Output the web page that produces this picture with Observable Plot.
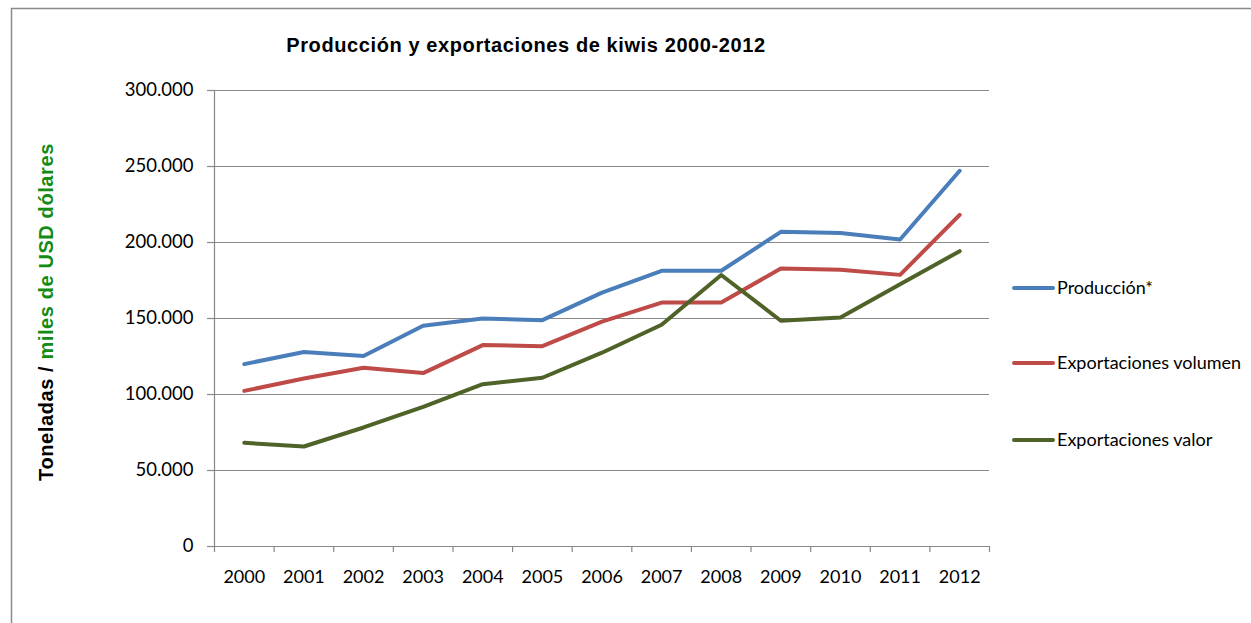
<!DOCTYPE html>
<html>
<head>
<meta charset="utf-8">
<script src="https://cdn.jsdelivr.net/npm/d3@7"></script>
<script src="https://cdn.jsdelivr.net/npm/@observablehq/plot@0.6"></script>
<style>
  html, body { margin: 0; padding: 0; background: #fff; }
  #chart { position: relative; width: 1251px; height: 623px; overflow: hidden; }
</style>
</head>
<body>
<div id="chart"></div>
<script>
const years = [2000, 2001, 2002, 2003, 2004, 2005, 2006, 2007, 2008, 2009, 2010, 2011, 2012];
const produccion = [120000, 128000, 125300, 145200, 150000, 148900, 167000, 181400, 181400, 207000, 206200, 202000, 247200];
const exportVolumen = [102400, 110500, 117600, 114100, 132500, 131800, 148000, 160500, 160500, 182900, 182000, 178700, 218200];
const exportValor = [68200, 65800, 78300, 91900, 106800, 111000, 127500, 145900, 178600, 148500, 150700, 172600, 194300];
const seriesNames = ["Producción*", "Exportaciones volumen", "Exportaciones valor"];
const seriesColors = ["#4a7ebb", "#be4b48", "#4f6228"];
const yTicks = [0, 50000, 100000, 150000, 200000, 250000, 300000];
const titleText = "Producción y exportaciones de kiwis 2000-2012";
const yLabelA = "Toneladas / ";
const yLabelB = "miles de USD dólares";

const seriesValues = [produccion, exportVolumen, exportValor];
const data = [];
seriesNames.forEach((name, i) => {
  years.forEach((yr, j) => data.push({series: name, year: yr, value: seriesValues[i][j]}));
});
const bandEdges = years.map(y => y - 0.5).concat([years[years.length - 1] + 0.5]);

const es = d3.formatLocale({decimal: ",", thousands: ".", grouping: [3], currency: ["", "€"]});
const fmt = es.format(",");

const W = 1251, H = 623;
const gridColor = "#898989";
const tickFont = "Lato, 'Open Sans', sans-serif";

const chart = Plot.plot({
  width: W,
  height: H,
  marginLeft: 214,
  marginRight: 262,
  marginTop: 90,
  marginBottom: 77,
  style: {fontFamily: tickFont, fontSize: "18px", color: "#000", background: "transparent"},
  x: {type: "linear", domain: [years[0] - 0.5, years[years.length - 1] + 0.5]},
  y: {domain: [0, 300000]},
  color: {domain: seriesNames, range: seriesColors},
  marks: [
    Plot.ruleY(yTicks, {stroke: gridColor, strokeWidth: 1.2, strokeOpacity: 1}),
    Plot.ruleX([years[0] - 0.5], {y1: 0, y2: 300000, stroke: gridColor, strokeWidth: 1.2}),
    Plot.axisY({ticks: yTicks, tickSize: 7, tickPadding: 14, tickFormat: fmt, label: null, stroke: gridColor, strokeOpacity: 1, strokeWidth: 1.2, fill: "#000", fontSize: 18.5}),
    Plot.axisX({ticks: years, tickSize: 0, tickPadding: 24, tickFormat: d => String(d), label: null, fill: "#000", fontSize: 18}),
    Plot.axisX({ticks: bandEdges, tickSize: 6, tickFormat: () => "", label: null, stroke: gridColor, strokeOpacity: 1, strokeWidth: 1.2}),
    Plot.line(data, {x: "year", y: "value", z: "series", stroke: "series", strokeWidth: 4, strokeLinecap: "round", strokeLinejoin: "round"})
  ]
});

document.getElementById("chart").appendChild(chart);

const svg = d3.select(chart);
// outer frame
svg.insert("rect", ":first-child")
  .attr("x", 11.5).attr("y", 8.5).attr("width", W + 10).attr("height", H + 10)
  .attr("fill", "none").attr("stroke", "#8a8a8a").attr("stroke-width", 1.5);

// title
svg.append("text")
  .attr("x", 526).attr("y", 52.3)
  .attr("text-anchor", "middle")
  .style("font-family", "'Liberation Sans', Arial, sans-serif")
  .style("font-weight", "bold").style("font-size", "20px").style("letter-spacing", "0.6px")
  .attr("fill", "#000")
  .text(titleText);

// y label
const yl = svg.append("text")
  .attr("transform", "translate(52.5,312) rotate(-90)")
  .attr("text-anchor", "middle")
  .style("font-family", "'Liberation Sans', Arial, sans-serif")
  .style("font-weight", "bold").style("font-size", "20px").style("letter-spacing", "0.6px");
yl.append("tspan").attr("fill", "#000").text(yLabelA);
yl.append("tspan").attr("fill", "#148b14").text(yLabelB);

// legend
const legendY = [288, 363, 440];
seriesNames.forEach((name, i) => {
  const g = svg.append("g");
  g.append("line")
    .attr("x1", 1014).attr("x2", 1053).attr("y1", legendY[i]).attr("y2", legendY[i])
    .attr("stroke", seriesColors[i]).attr("stroke-width", 4).attr("stroke-linecap", "round");
  g.append("text")
    .attr("x", 1057).attr("y", legendY[i]).attr("dy", "0.35em")
    .attr("text-anchor", "start")
    .style("font-family", tickFont).style("font-size", "18px")
    .attr("fill", "#000")
    .text(name);
});
</script>
</body>
</html>
